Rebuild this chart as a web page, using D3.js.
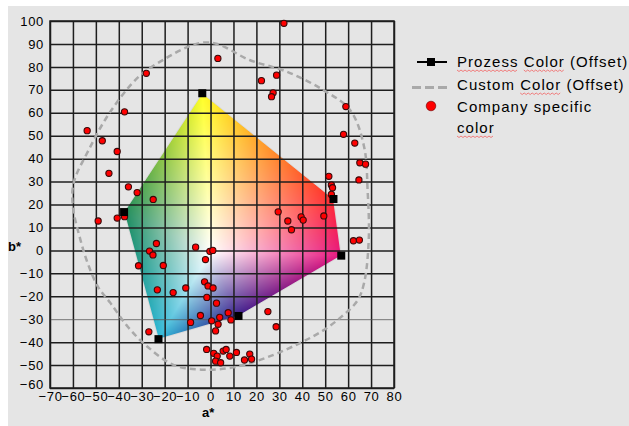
<!DOCTYPE html>
<html>
<head>
<meta charset="utf-8">
<script src="https://cdn.jsdelivr.net/npm/d3@7"></script>
<style>
  body { margin: 0; background: #fff; }
  svg { display: block; font-family: "Liberation Sans", Arial, sans-serif; }
</style>
</head>
<body>
<svg id="chart" width="629" height="426"></svg>
<script>
// axes
const xTicks = [-70, -60, -50, -40, -30, -20, -10, 0, 10, 20, 30, 40, 50, 60, 70, 80]
const yTicks = [-60, -50, -40, -30, -20, -10, 0, 10, 20, 30, 40, 50, 60, 70, 80, 90, 100]

// process colour gamut (a*, b*), clockwise from yellow
const processColors = [[-3.6, 68.5], [53.6, 22.4], [57, -2.3], [12.2, -28.6], [-22.7, -38.7], [-37.7, 16.7]]
const whitePoint = [0, -1]

// custom colour gamut outline (a*, b*)
const customGamut = [
  [-53, 44], [-44, 60], [-31, 76], [-19, 84], [-10, 88.7], [-4, 90.5], [3, 90], [17, 83], [33, 78],
  [49, 70], [61, 61], [67, 45], [68.5, 26], [69, 5], [67, -14], [64, -22], [57, -29], [49, -35],
  [39, -40.4], [25, -46.5], [10, -51], [-4, -52], [-16, -50], [-27.5, -42], [-36, -33.4],
  [-43.6, -23], [-49, -16], [-53.6, -5.5], [-56.7, 4.5], [-60, 19], [-59.7, 29.4]
]

// company specific colours (a*, b*)
const companyColors = [
  [32, 99], [3.2, 83.7], [22.2, 74], [28.8, 76.4], [27.3, 68.7], [26.6, 67], [59, 62.7], [58, 50.6],
  [62.9, 46.8], [65.1, 38.2], [67.6, 37.6], [64.7, 30.7], [51.6, 32.3], [52.7, 28.5], [53.2, 27.3],
  [52.7, 24.4], [29.5, 16.8], [33.7, 12.8], [39.5, 14.6], [40.4, 13.2], [35.3, 9], [49.4, 15],
  [62.3, 4.2], [64.9, 4.5],
  [-53.8, 52.2], [-47.2, 47.8], [-37.5, 60.4], [-28, 77.2], [-40.7, 43.1], [-44.3, 33.6],
  [-35.8, 27.7], [-32, 25.2], [-25, 22.2], [-49, 12.8], [-40.7, 14.1], [-37.5, 14.7],
  [-23.6, 3], [-26.6, -0.3], [-25.1, -2], [-31.4, -6.7], [-20.6, -6.6], [-6.5, 1.4], [-0.3, -0.4],
  [1, 0], [-2.2, -4],
  [-23.2, -17.2], [-16.3, -18.4], [-10.8, -16.4], [-2.6, -13.7], [-1.1, -15.5], [1.1, -16.4],
  [-1.6, -20.5], [2.6, -23], [-4.4, -28.4], [-8.7, -31.4], [0.5, -30.7], [4, -29.2], [3.3, -32.2],
  [2.2, -35.1], [7.7, -27.2], [8.9, -30.3], [25, -26.7], [28.6, -33.3], [-26.9, -35.5],
  [-1.7, -43.2], [1.4, -44.9], [2.9, -46.1], [5.5, -43.9], [6.8, -43.2], [8.4, -46.1], [11.3, -44.5],
  [2.2, -48.3], [4.4, -49], [14.8, -47.8], [17.1, -45.2], [17.9, -47.4]
]

const legendLabels = ["Prozess Color (Offset)", "Custom Color (Offset)", "Company specific", "color"]
const underlined = [["Prozess", "Color"], ["Color"], [], ["color"]]

// styles
const vertexFill = ["#ffff26", "#ff2a2e", "#e8177f", "#3b1f8c", "#2cb6d6", "#1f8c5c"]
const dashGrey = "#a9a9a9"

const W = 629, H = 426
const svg = d3.select("#chart")
const x = d3.scaleLinear([-70, 80], [50, 394])
const y = d3.scaleLinear([-60, 100], [388, 21])

svg.append("rect").attr("x", 8).attr("y", 6).attr("width", W - 8).attr("height", H - 6).attr("fill", "#e5e5e5")

// gamut fill: white point in the middle, process colours at the corners
function gamutImage() {
  const canvas = document.createElement("canvas")
  canvas.width = W
  canvas.height = H
  const ctx = canvas.getContext("2d")
  const img = ctx.createImageData(W, H)
  const c = [x(whitePoint[0]), y(whitePoint[1])]
  const v = processColors.map(p => [x(p[0]), y(p[1])])
  const cols = vertexFill.map(f => d3.rgb(f))
  for (let py = 0; py < H; py++) {
    for (let px = 0; px < W; px++) {
      const p = [px + 0.5, py + 0.5]
      for (let i = 0; i < v.length; i++) {
        const a = v[i], b = v[(i + 1) % v.length]
        const det = (a[1] - b[1]) * (c[0] - b[0]) + (b[0] - a[0]) * (c[1] - b[1])
        const w0 = ((a[1] - b[1]) * (p[0] - b[0]) + (b[0] - a[0]) * (p[1] - b[1])) / det
        const w1 = ((b[1] - c[1]) * (p[0] - b[0]) + (c[0] - b[0]) * (p[1] - b[1])) / det
        const w2 = 1 - w0 - w1
        if (w0 >= -1e-6 && w1 >= -1e-6 && w2 >= -1e-6) {
          const ca = cols[i], cb = cols[(i + 1) % v.length]
          const k = (py * W + px) * 4
          img.data[k] = w0 * 255 + w1 * ca.r + w2 * cb.r
          img.data[k + 1] = w0 * 255 + w1 * ca.g + w2 * cb.g
          img.data[k + 2] = w0 * 255 + w1 * ca.b + w2 * cb.b
          img.data[k + 3] = 255
          break
        }
      }
    }
  }
  ctx.putImageData(img, 0, 0)
  return canvas.toDataURL()
}
svg.append("image").attr("x", 0).attr("y", 0).attr("width", W).attr("height", H)
  .attr("href", gamutImage())
svg.append("polygon")
  .attr("points", processColors.map(p => [x(p[0]), y(p[1])].join(",")).join(" "))
  .attr("fill", "none").attr("stroke", "#d8d8d8").attr("stroke-width", 1)

// grid + tick labels
const gx = svg.append("g").attr("transform", `translate(0,${y(-60)})`)
  .call(d3.axisBottom(x).tickValues(xTicks).tickSize(-(y(-60) - y(100))).tickPadding(4).tickFormat(d3.format("d")))
const gy = svg.append("g").attr("transform", `translate(${x(-70)},0)`)
  .call(d3.axisLeft(y).tickValues(yTicks).tickSize(-(x(80) - x(-70))).tickPadding(6).tickFormat(d3.format("d")))
for (const g of [gx, gy]) {
  g.select(".domain").remove()
  g.selectAll(".tick line").attr("stroke", "#1e1e1e").attr("stroke-width", 1.5)
  g.selectAll(".tick text").attr("fill", "#000").attr("font-size", 13)
    .style("letter-spacing", "0.7px").attr("font-family", "Liberation Sans, Arial, sans-serif")
}
gy.selectAll(".tick").filter(d => d === -30).select("line").attr("stroke", "#555").attr("stroke-width", 0.8)
gy.selectAll(".tick").filter(d => d === -60).select("text").attr("y", -3.5)
svg.append("rect").attr("x", x(-70)).attr("y", y(100))
  .attr("width", x(80) - x(-70)).attr("height", y(-60) - y(100))
  .attr("fill", "none").attr("stroke", "#1e1e1e").attr("stroke-width", 1.5)

svg.append("text").attr("x", 8).attr("y", 251).attr("font-size", 13).attr("font-weight", "bold").text("b*")
svg.append("text").attr("x", 202).attr("y", 417).attr("font-size", 13).attr("font-weight", "bold").text("a*")

// custom gamut
svg.append("path")
  .attr("d", d3.line().x(d => x(d[0])).y(d => y(d[1])).curve(d3.curveCatmullRomClosed)(customGamut))
  .attr("fill", "none").attr("stroke", dashGrey).attr("stroke-width", 2.5).attr("stroke-dasharray", "6,4")

// company colours
svg.append("g").selectAll("circle").data(companyColors).join("circle")
  .attr("cx", d => x(d[0])).attr("cy", d => y(d[1])).attr("r", 3.1)
  .attr("fill", "#ff0000").attr("stroke", "#3a0a0a").attr("stroke-width", 1.1)

// process colours
svg.append("g").selectAll("rect").data(processColors).join("rect")
  .attr("x", d => x(d[0]) - 4).attr("y", d => y(d[1]) - 4).attr("width", 8).attr("height", 8)
  .attr("fill", "#000")

// legend
const lg = svg.append("g")
lg.append("line").attr("x1", 417).attr("x2", 447).attr("y1", 62).attr("y2", 62)
  .attr("stroke", "#000").attr("stroke-width", 2)
lg.append("rect").attr("x", 427).attr("y", 58).attr("width", 8).attr("height", 8).attr("fill", "#000")
lg.append("line").attr("x1", 412).attr("x2", 447).attr("y1", 87.5).attr("y2", 87.5)
  .attr("stroke", dashGrey).attr("stroke-width", 3).attr("stroke-dasharray", "9,4")
lg.append("circle").attr("cx", 431).attr("cy", 106).attr("r", 4.8).attr("fill", "#ff0000")
  .attr("stroke", "#600").attr("stroke-width", 0.6)

const baselines = [67, 90, 112, 133]
legendLabels.forEach((label, i) => {
  const t = lg.append("text").attr("x", 457).attr("y", baselines[i])
    .attr("font-size", 15).style("letter-spacing", "1.05px").attr("fill", "#000").text(label)
  const node = t.node()
  for (const word of underlined[i]) {
    const idx = label.indexOf(word)
    const x0 = 457 + (idx > 0 ? node.getSubStringLength(0, idx) : 0)
    const x1 = x0 + node.getSubStringLength(idx, word.length) - 1
    const pts = d3.range(x0, x1, 2).map((px, k) => [px, baselines[i] + 3.5 + (k % 2 ? 1 : -0.5)])
    lg.append("path").attr("d", d3.line()(pts)).attr("fill", "none")
      .attr("stroke", "#f07070").attr("stroke-width", 0.9)
  }
})
</script>
</body>
</html>
